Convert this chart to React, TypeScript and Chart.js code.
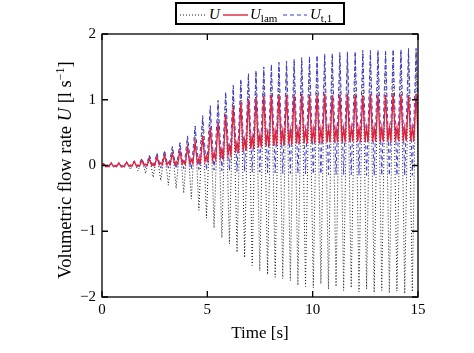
import React, { useEffect, useRef } from "react";
import { Chart, registerables } from "chart.js";

Chart.register(...registerables);

const FONT = "'Liberation Serif', 'Times New Roman', serif";

// Time of each upper peak of the pulsation [s]
const peakTimes = [0.08, 0.44, 0.80, 1.17, 1.53, 1.89, 2.25, 2.61, 2.97, 3.34, 3.70, 4.06, 4.42, 4.78, 5.14, 5.51, 5.87, 6.23, 6.59, 6.95, 7.31, 7.68, 8.04, 8.40, 8.76, 9.12, 9.48, 9.85, 10.21, 10.57, 10.93, 11.29, 11.65, 12.02, 12.38, 12.74, 13.10, 13.46, 13.82, 14.19, 14.55, 14.91];
// Time of each lower trough [s]
const troughTimes = [0.26, 0.62, 0.98, 1.35, 1.71, 2.07, 2.43, 2.79, 3.15, 3.52, 3.88, 4.24, 4.60, 4.96, 5.32, 5.69, 6.05, 6.41, 6.77, 7.13, 7.49, 7.86, 8.22, 8.58, 8.94, 9.30, 9.66, 10.03, 10.39, 10.75, 11.11, 11.47, 11.83, 12.20, 12.56, 12.92, 13.28, 13.64, 14.00, 14.37, 14.73, 15.09];

// U : total volumetric flow rate [l/s]
const uStart = 0;
const uPeak = [0.02, 0.03, 0.03, 0.05, 0.07, 0.10, 0.15, 0.18, 0.22, 0.28, 0.34, 0.43, 0.57, 0.72, 0.87, 0.95, 1.08, 1.18, 1.28, 1.36, 1.41, 1.46, 1.50, 1.53, 1.55, 1.58, 1.60, 1.62, 1.64, 1.66, 1.67, 1.68, 1.69, 1.70, 1.71, 1.71, 1.72, 1.72, 1.73, 1.73, 1.74, 1.74];
const uTrough = [-0.02, -0.03, -0.04, -0.06, -0.08, -0.12, -0.18, -0.23, -0.30, -0.35, -0.42, -0.51, -0.68, -0.80, -0.95, -1.10, -1.19, -1.32, -1.40, -1.52, -1.60, -1.66, -1.70, -1.72, -1.75, -1.82, -1.84, -1.86, -1.80, -1.88, -1.84, -1.90, -1.86, -1.92, -1.88, -1.93, -1.90, -1.94, -1.91, -1.95, -1.92, -1.93];

// U_lam : laminar component [l/s]
const lamStart = 0;
const lamPeak = [0.03, 0.04, 0.04, 0.05, 0.06, 0.08, 0.10, 0.13, 0.16, 0.18, 0.22, 0.27, 0.35, 0.45, 0.58, 0.66, 0.78, 0.89, 0.96, 1.01, 1.04, 1.06, 1.07, 1.08, 1.07, 1.08, 1.09, 1.07, 1.08, 1.09, 1.07, 1.08, 1.09, 1.08, 1.07, 1.09, 1.08, 1.07, 1.09, 1.08, 1.07, 1.09];
const lamLow = [-0.02, -0.02, -0.02, -0.01, -0.01, 0.00, 0.00, 0.01, 0.01, 0.02, 0.02, 0.03, 0.04, 0.06, 0.09, 0.12, 0.16, 0.19, 0.22, 0.25, 0.27, 0.29, 0.30, 0.31, 0.32, 0.33, 0.33, 0.34, 0.34, 0.35, 0.35, 0.35, 0.36, 0.36, 0.36, 0.36, 0.36, 0.36, 0.37, 0.37, 0.37, 0.37];
const lamBump = [0.00, 0.00, 0.00, 0.01, 0.01, 0.02, 0.03, 0.04, 0.05, 0.06, 0.07, 0.09, 0.11, 0.15, 0.20, 0.25, 0.30, 0.35, 0.40, 0.44, 0.47, 0.50, 0.52, 0.53, 0.54, 0.55, 0.55, 0.56, 0.56, 0.57, 0.57, 0.57, 0.58, 0.58, 0.58, 0.58, 0.58, 0.58, 0.58, 0.58, 0.58, 0.58];
const lamPhases = [0.3, 0.5, 0.7];

// U_t,1 : first transient component [l/s]
const t1Start = 0;
const t1Peak = [0.02, 0.03, 0.03, 0.05, 0.07, 0.11, 0.16, 0.19, 0.23, 0.29, 0.35, 0.45, 0.60, 0.76, 0.91, 0.99, 1.12, 1.22, 1.32, 1.40, 1.45, 1.50, 1.54, 1.57, 1.59, 1.62, 1.64, 1.66, 1.68, 1.70, 1.71, 1.72, 1.73, 1.74, 1.75, 1.75, 1.76, 1.76, 1.77, 1.77, 1.78, 1.78];
const t1Trough = [-0.01, -0.01, -0.02, -0.02, -0.02, -0.03, -0.03, -0.04, -0.04, -0.05, -0.05, -0.06, -0.06, -0.07, -0.07, -0.08, -0.08, -0.09, -0.09, -0.10, -0.10, -0.11, -0.11, -0.12, -0.12, -0.12, -0.13, -0.13, -0.13, -0.14, -0.14, -0.14, -0.14, -0.15, -0.15, -0.15, -0.15, -0.15, -0.15, -0.15, -0.15, -0.15];

const xTicks = [0, 5, 10, 15];
const yTicks = [-2, -1, 0, 1, 2];

type P = { x: number; y: number };

function zigzag(start: number, peaks: number[], troughs: number[]): P[] {
  const pts: P[] = [{ x: 0, y: start }];
  peakTimes.forEach((t, i) => {
    pts.push({ x: t, y: peaks[i] });
    pts.push({ x: troughTimes[i], y: troughs[i] });
  });
  return pts;
}

function lamSeries(): P[] {
  const pts: P[] = [{ x: 0, y: lamStart }];
  peakTimes.forEach((t, i) => {
    const next = i + 1 < peakTimes.length ? peakTimes[i + 1] : 2 * troughTimes[i] - t;
    const per = next - t;
    pts.push({ x: t, y: lamPeak[i] });
    pts.push({ x: t + lamPhases[0] * per, y: lamLow[i] });
    pts.push({ x: t + lamPhases[1] * per, y: lamBump[i] });
    pts.push({ x: t + lamPhases[2] * per, y: lamLow[i] });
  });
  return pts;
}

const framePlugin = {
  id: "frame",
  afterDatasetsDraw(chart: any) {
    const { ctx, chartArea: a, scales } = chart;
    ctx.save();
    ctx.strokeStyle = "#000";
    ctx.lineWidth = 1.3;
    ctx.strokeRect(a.left, a.top, a.right - a.left, a.bottom - a.top);
    const len = 6;
    ctx.beginPath();
    scales.x.ticks.forEach((t: any) => {
      const x = scales.x.getPixelForValue(t.value);
      ctx.moveTo(x, a.bottom);
      ctx.lineTo(x, a.bottom - len);
      ctx.moveTo(x, a.top);
      ctx.lineTo(x, a.top + len);
    });
    scales.y.ticks.forEach((t: any) => {
      const y = scales.y.getPixelForValue(t.value);
      ctx.moveTo(a.left, y);
      ctx.lineTo(a.left + len, y);
      ctx.moveTo(a.right, y);
      ctx.lineTo(a.right - len, y);
    });
    ctx.stroke();
    ctx.restore();
  },
};

const W = 474;
const H = 353;

export default function App() {
  const ref = useRef<HTMLCanvasElement>(null);

  useEffect(() => {
    const chart = new Chart(ref.current as HTMLCanvasElement, {
      type: "line",
      data: {
        datasets: [
          {
            label: "U_lam",
            data: lamSeries(),
            borderColor: "#e2223c",
            borderWidth: 1.3,
            pointRadius: 0,
            tension: 0,
            clip: 0,
          } as any,
          {
            label: "U_t,1",
            data: zigzag(t1Start, t1Peak, t1Trough),
            borderColor: "#3b3bdc",
            borderWidth: 1,
            borderDash: [4, 3],
            pointRadius: 0,
            tension: 0,
            clip: 0,
          },
          {
            label: "U",
            data: zigzag(uStart, uPeak, uTrough),
            borderColor: "#1a1a1a",
            borderWidth: 1,
            borderDash: [1, 2],
            pointRadius: 0,
            tension: 0,
            clip: 0,
          },
        ],
      },
      options: {
        animation: false,
        responsive: false,
        devicePixelRatio: 1,
        events: [],
        layout: { padding: { left: 0, right: 56, top: 34, bottom: 0 } },
        plugins: { legend: { display: false }, tooltip: { enabled: false } },
        scales: {
          x: {
            type: "linear",
            min: 0,
            max: 15,
            grid: { display: false, drawTicks: false, tickLength: 0 },
            border: { display: false },
            ticks: {
              autoSkip: false,
              maxRotation: 0,
              padding: 4,
              color: "#000",
              font: { family: FONT, size: 15 },
            },
            afterBuildTicks: (s: any) => {
              s.ticks = xTicks.map((v) => ({ value: v }));
            },
            afterFit: (s: any) => {
              s.height = 56;
            },
            title: {
              display: true,
              text: "Time [s]",
              color: "#000",
              font: { family: FONT, size: 17 },
              padding: { top: 0, bottom: 9 },
            },
          },
          y: {
            type: "linear",
            min: -2,
            max: 2,
            grid: { display: false, drawTicks: false, tickLength: 0 },
            border: { display: false },
            ticks: {
              autoSkip: false,
              padding: 6,
              color: "#000",
              font: { family: FONT, size: 15 },
              callback: (v: any) => String(v).replace("-", "\u2212"),
            },
            afterBuildTicks: (s: any) => {
              s.ticks = yTicks.map((v) => ({ value: v }));
            },
            afterFit: (s: any) => {
              s.width = 102;
            },
          },
        },
      },
      plugins: [framePlugin],
    });
    return () => chart.destroy();
  }, []);

  const txt: React.CSSProperties = {
    position: "absolute",
    top: 1,
    lineHeight: "19px",
    fontSize: 15,
    whiteSpace: "nowrap",
  };
  const sub: React.CSSProperties = { fontSize: 11, verticalAlign: "-3px", fontStyle: "normal" };

  return (
    <div
      style={{
        position: "fixed",
        left: 0,
        top: 0,
        width: W,
        height: H,
        background: "#fff",
        overflow: "hidden",
        fontFamily: FONT,
        color: "#000",
      }}
    >
      <canvas ref={ref} width={W} height={H} style={{ position: "absolute", left: 0, top: 0, width: W, height: H }} />
      <div
        style={{
          position: "absolute",
          left: 175,
          top: 2,
          width: 170,
          height: 23,
          border: "2px solid #000",
          boxSizing: "border-box",
          background: "#fff",
        }}
      >
        <svg width={160} height={19} style={{ position: "absolute", left: 0, top: 0 }}>
          <line x1={3} x2={30} y1={11} y2={11} stroke="#1a1a1a" strokeWidth={1} strokeDasharray="1 2" />
          <line x1={46} x2={71} y1={11} y2={11} stroke="#e2223c" strokeWidth={1.4} />
          <line x1={106} x2={130} y1={11} y2={11} stroke="#3b3bdc" strokeWidth={1} strokeDasharray="4 3" />
        </svg>
        <span style={{ ...txt, left: 32 }}>
          <i>U</i>
        </span>
        <span style={{ ...txt, left: 73 }}>
          <i>U</i>
          <span style={sub}>lam</span>
        </span>
        <span style={{ ...txt, left: 133 }}>
          <i>U</i>
          <span style={sub}>t,1</span>
        </span>
      </div>
      <div
        style={{
          position: "absolute",
          left: 60 - 150,
          top: 170 - 11,
          width: 300,
          height: 22,
          lineHeight: "22px",
          fontSize: 18.5,
          textAlign: "center",
          whiteSpace: "nowrap",
          transform: "rotate(-90deg)",
          transformOrigin: "50% 50%",
        }}
      >
        Volumetric flow rate <i>U</i> [l s<span style={{ fontSize: 12, verticalAlign: "7px" }}>−1</span>]
      </div>
    </div>
  );
}
